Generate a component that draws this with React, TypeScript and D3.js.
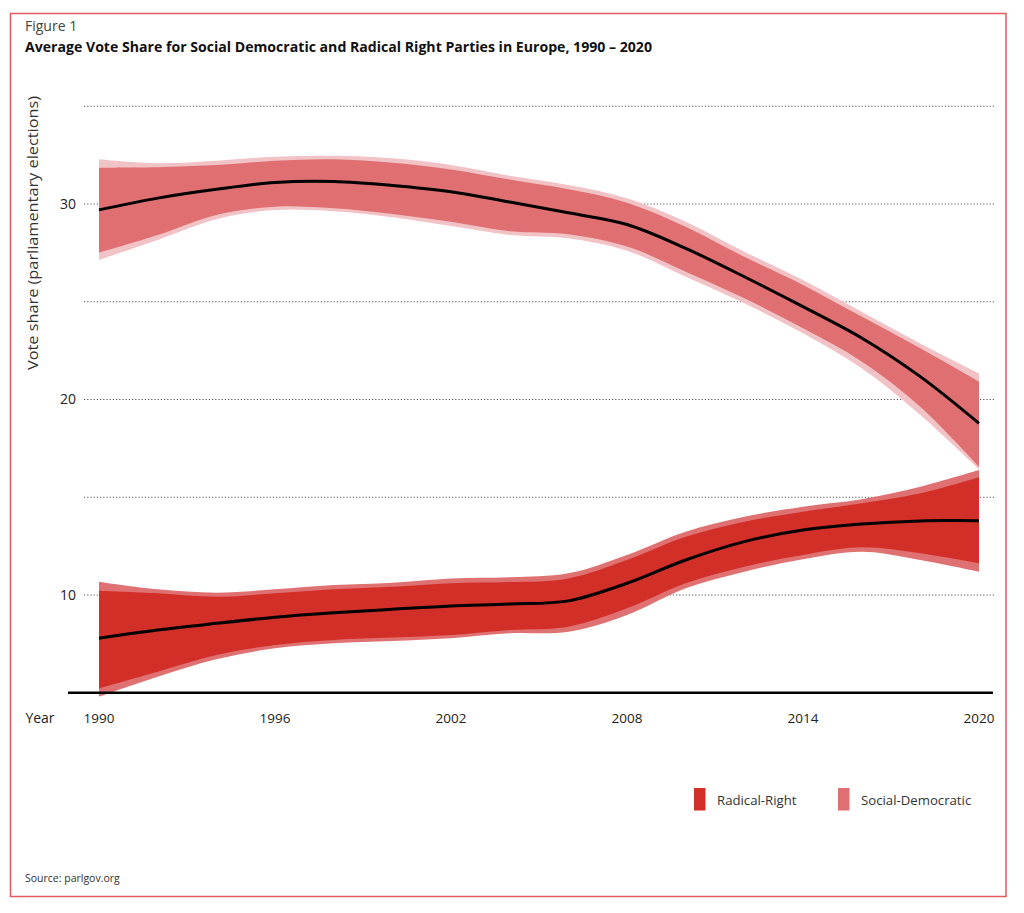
import * as d3 from "d3";

const years = [1990, 1992, 1994, 1996, 1998, 2000, 2002, 2004, 2006, 2008, 2010, 2012, 2014, 2016, 2018, 2020];

// Social-Democratic: smoothed mean with two confidence bands
const sdMean = [29.7, 30.3, 30.75, 31.1, 31.15, 30.95, 30.63, 30.1, 29.55, 28.95, 27.73, 26.28, 24.75, 23.15, 21.17, 18.78];
const sdInnerHi = [31.86, 31.88, 31.99, 32.21, 32.29, 32.11, 31.77, 31.25, 30.75, 30.07, 28.84, 27.3, 25.86, 24.24, 22.62, 20.91];
const sdInnerLo = [27.51, 28.41, 29.44, 29.86, 29.78, 29.49, 29.09, 28.6, 28.45, 27.82, 26.54, 25.18, 23.64, 21.95, 19.63, 16.56];
const sdOuterHi = [32.29, 32.08, 32.21, 32.42, 32.47, 32.34, 32.0, 31.45, 30.97, 30.29, 29.09, 27.56, 26.11, 24.49, 22.87, 21.34];
const sdOuterLo = [27.14, 28.16, 29.22, 29.69, 29.63, 29.32, 28.87, 28.42, 28.25, 27.61, 26.28, 24.92, 23.39, 21.6, 19.21, 16.43];

// Radical-Right
const rrMean = [7.79, 8.21, 8.55, 8.86, 9.09, 9.27, 9.44, 9.54, 9.7, 10.6, 11.79, 12.73, 13.32, 13.63, 13.79, 13.8];
const rrInnerHi = [10.22, 10.09, 9.91, 10.09, 10.29, 10.42, 10.6, 10.66, 10.85, 11.79, 12.98, 13.75, 14.26, 14.69, 15.2, 16.02];
const rrInnerLo = [5.23, 6.08, 6.93, 7.44, 7.7, 7.82, 7.95, 8.21, 8.38, 9.32, 10.6, 11.45, 12.05, 12.44, 12.13, 11.62];
const rrOuterHi = [10.68, 10.29, 10.12, 10.29, 10.51, 10.63, 10.85, 10.91, 11.11, 12.05, 13.24, 14.0, 14.52, 14.9, 15.54, 16.39];
const rrOuterLo = [4.8, 5.82, 6.71, 7.27, 7.53, 7.65, 7.79, 8.04, 8.12, 8.98, 10.34, 11.19, 11.83, 12.21, 11.79, 11.19];

const gridValues = [10, 15, 20, 25, 30, 35];
const yTickLabels = [10, 20, 30];
const xTicks = [1990, 1996, 2002, 2008, 2014, 2020];

const legendItems = [
  { label: "Radical-Right", color: "#d22f29" },
  { label: "Social-Democratic", color: "#df6f71" },
];

const font = "'Open Sans', 'Noto Sans', sans-serif";

export default function App() {
  const width = 1024;
  const height = 913;

  const x = d3.scaleLinear().domain([1990, 2020]).range([99, 979]);
  const y = d3.scaleLinear().domain([5, 35]).range([692.75, 106.25]);
  const curve = d3.curveCatmullRom.alpha(0.5);
  const idx = years.map((_, i) => i);

  const band = (lo: number[], hi: number[]) =>
    d3
      .area<number>()
      .x((d) => x(years[d]))
      .y0((d) => y(lo[d]))
      .y1((d) => y(hi[d]))
      .curve(curve)(idx) || "";

  const line = (vals: number[]) =>
    d3
      .line<number>()
      .x((d) => x(years[d]))
      .y((d) => y(vals[d]))
      .curve(curve)(idx) || "";

  return (
    <svg
      width={width}
      height={height}
      style={{ position: "absolute", left: 0, top: 0, background: "#fff" }}
      fontFamily={font}
    >
      <rect x={10.5} y={13.5} width={995.5} height={883} fill="none" stroke="#e05a5e" strokeWidth={1.5} />

      <text x={25} y={31} fontSize={14} fill="#444">
        Figure 1
      </text>
      <text x={25} y={52} fontSize={14} fontWeight={700} fill="#111" textLength={627} lengthAdjust="spacingAndGlyphs">
        Average Vote Share for Social Democratic and Radical Right Parties in Europe, 1990 – 2020
      </text>

      {/* gridlines */}
      {gridValues.map((v) => (
        <line
          key={v}
          x1={84}
          x2={995}
          y1={y(v)}
          y2={y(v)}
          stroke="#555"
          strokeWidth={1}
          strokeDasharray="1.2,2"
        />
      ))}
      {yTickLabels.map((v) => (
        <text key={v} x={76} y={y(v)} dy="0.35em" textAnchor="end" fontSize={14} fill="#222">
          {v}
        </text>
      ))}
      <text
        transform={`translate(38,233) rotate(-90)`}
        textAnchor="middle"
        fontSize={14}
        fill="#333"
        textLength={274}
        lengthAdjust="spacingAndGlyphs"
      >
        Vote share (parliamentary elections)
      </text>

      {/* Social-Democratic */}
      <path d={band(sdOuterLo, sdOuterHi)} fill="#f2c3c6" />
      <path d={band(sdInnerLo, sdInnerHi)} fill="#df6f71" />
      {/* Radical-Right */}
      <path d={band(rrOuterLo, rrOuterHi)} fill="#e07172" />
      <path d={band(rrInnerLo, rrInnerHi)} fill="#d22f29" />

      <path d={line(sdMean)} fill="none" stroke="#000" strokeWidth={3} />
      <path d={line(rrMean)} fill="none" stroke="#000" strokeWidth={3} />

      <line x1={68} x2={993} y1={y(5)} y2={y(5)} stroke="#000" strokeWidth={2.5} />

      <text x={40} y={718} dy="0.35em" textAnchor="middle" fontSize={14} fill="#222">
        Year
      </text>
      {xTicks.map((t) => (
        <text key={t} x={x(t)} y={718} dy="0.35em" textAnchor="middle" fontSize={13.5} fill="#222">
          {t}
        </text>
      ))}

      {/* legend */}
      {legendItems.map((it, i) => {
        const lx = 694 + i * 144;
        return (
          <g key={it.label}>
            <rect x={lx} y={788} width={11.5} height={22.5} fill={it.color} />
            <text x={lx + 23} y={800} dy="0.35em" fontSize={13.2} fill="#333">
              {it.label}
            </text>
          </g>
        );
      })}

      <text x={25} y={878} dy="0.35em" fontSize={10.5} fill="#333">
        Source: parlgov.org
      </text>
    </svg>
  );
}
